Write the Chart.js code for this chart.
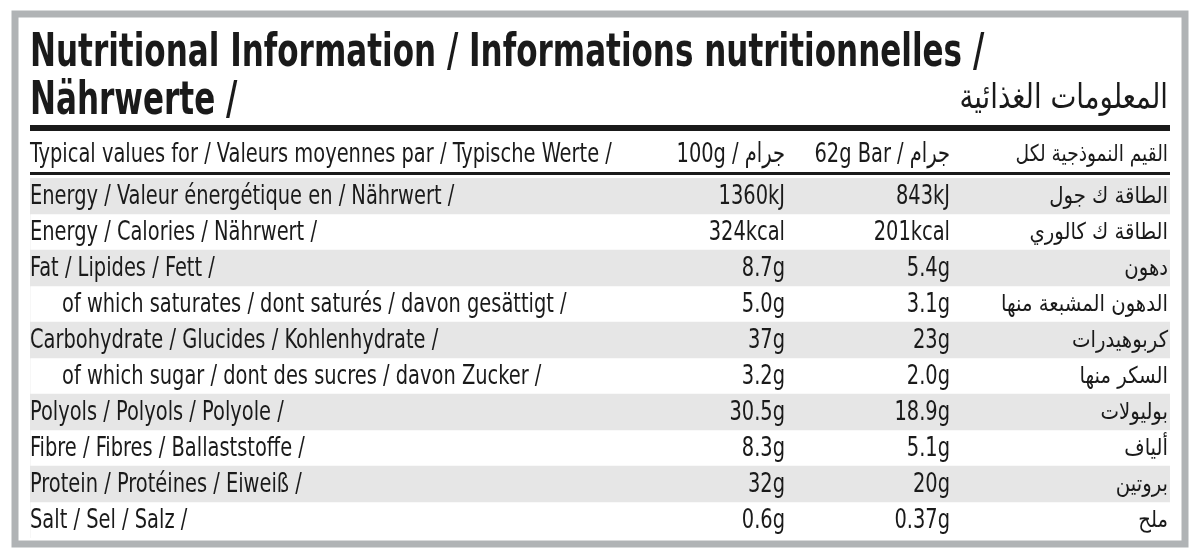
<!DOCTYPE html>
<html>
<head>
<meta charset="utf-8">
<script src="https://cdn.jsdelivr.net/npm/chart.js@4"></script>
<style>
  body { margin: 0; background: #fff; }
</style>
</head>
<body>
<canvas id="chart" width="1200" height="560"></canvas>
<script>
const rowLabels = [
  "Energy / Valeur énergétique en / Nährwert /",
  "Energy / Calories / Nährwert /",
  "Fat / Lipides / Fett /",
  "   of which saturates / dont saturés / davon gesättigt /",
  "Carbohydrate / Glucides / Kohlenhydrate /",
  "   of which sugar / dont des sucres / davon Zucker /",
  "Polyols / Polyols / Polyole /",
  "Fibre / Fibres / Ballaststoffe /",
  "Protein / Protéines / Eiweiß /",
  "Salt / Sel / Salz /"
];
const per100g = ["1360kJ", "324kcal", "8.7g", "5.0g", "37g", "3.2g", "30.5g", "8.3g", "32g", "0.6g"];
const perBar = ["843kJ", "201kcal", "5.4g", "3.1g", "23g", "2.0g", "18.9g", "5.1g", "20g", "0.37g"];
const arabicLabels = [
  "الطاقة ك جول", "الطاقة ك كالوري", "دهون", "الدهون المشبعة منها", "كربوهيدرات",
  "السكر منها", "بوليولات", "ألياف", "بروتين", "ملح"
];
const stripes = [1, 0, 1, 0, 1, 0, 1, 0, 1, 0];
const headerLabels = ["Typical values for / Valeurs moyennes par / Typische Werte /", "100g / جرام", "62g Bar / جرام", "القيم النموذجية لكل"];
const titleLines = ["Nutritional Information / Informations nutritionnelles /", "Nährwerte /"];
const titleArabic = "المعلومات الغذائية";

const FONT = "'Liberation Sans Narrow', 'DejaVu Sans Condensed', 'Roboto', sans-serif";
const ARFONT = "'DejaVu Sans Condensed', 'DejaVu Sans', sans-serif";

// condensed text: squeeze horizontally around the anchor point
function squeezed(ctx, text, x, y, sx) {
  ctx.save();
  ctx.translate(x, y);
  ctx.scale(sx, 1);
  ctx.fillText(text, 0, 0);
  ctx.restore();
}

const tablePlugin = {
  id: "tableText",
  afterDraw(chart) {
    const ctx = chart.ctx;
    const y = chart.scales.y;
    const area = chart.chartArea;
    const colA = 785, colB = 950, colC = area.right - 2;
    const sx = 0.8;
    ctx.save();
    ctx.strokeStyle = "#b0b3b5";
    ctx.lineWidth = 7;
    ctx.strokeRect(15, 14, 1170, 530);
    ctx.fillStyle = "#1a1a1a";
    ctx.textBaseline = "alphabetic";
    ctx.textAlign = "left";
    ctx.font = "bold 46px " + FONT;
    squeezed(ctx, titleLines[0], area.left, 66, 0.75);
    squeezed(ctx, titleLines[1], area.left, 114, 0.75);
    ctx.textAlign = "right";
    ctx.font = "34px " + ARFONT;
    squeezed(ctx, titleArabic, colC, 108, 0.9);
    ctx.fillRect(area.left, 125, area.right - area.left, 6);
    ctx.fillRect(area.left, 172, area.right - area.left, 3);
    ctx.textBaseline = "middle";
    ctx.font = "27px " + FONT;
    ctx.textAlign = "left";
    squeezed(ctx, headerLabels[0], area.left, 155, sx);
    ctx.textAlign = "right";
    squeezed(ctx, headerLabels[1], colA, 155, sx);
    squeezed(ctx, headerLabels[2], colB, 155, sx);
    ctx.font = "23px " + ARFONT;
    squeezed(ctx, headerLabels[3], colC, 155, 0.9);
    rowLabels.forEach((label, i) => {
      const py = y.getPixelForValue(i) + 1;
      ctx.font = "27px " + FONT;
      ctx.textAlign = "left";
      const indent = label.startsWith("   ") ? 32 : 0;
      squeezed(ctx, label.trim(), area.left + indent, py, sx);
      ctx.textAlign = "right";
      squeezed(ctx, per100g[i], colA, py, sx);
      squeezed(ctx, perBar[i], colB, py, sx);
      ctx.font = "23px " + ARFONT;
      squeezed(ctx, arabicLabels[i], colC, py, 0.95);
    });
    ctx.restore();
  }
};

new Chart(document.getElementById("chart"), {
  type: "bar",
  data: {
    labels: rowLabels,
    datasets: [{
      data: stripes,
      backgroundColor: "#e6e6e6",
      barPercentage: 1,
      categoryPercentage: 1,
      borderWidth: 0
    }]
  },
  options: {
    indexAxis: "y",
    responsive: false,
    animation: false,
    devicePixelRatio: 1,
    layout: { padding: { left: 30, right: 30, top: 178, bottom: 22 } },
    scales: {
      x: { display: false, min: 0, max: 1 },
      y: { display: false }
    },
    plugins: { legend: { display: false }, tooltip: { enabled: false } }
  },
  plugins: [tablePlugin]
});
</script>
</body>
</html>
